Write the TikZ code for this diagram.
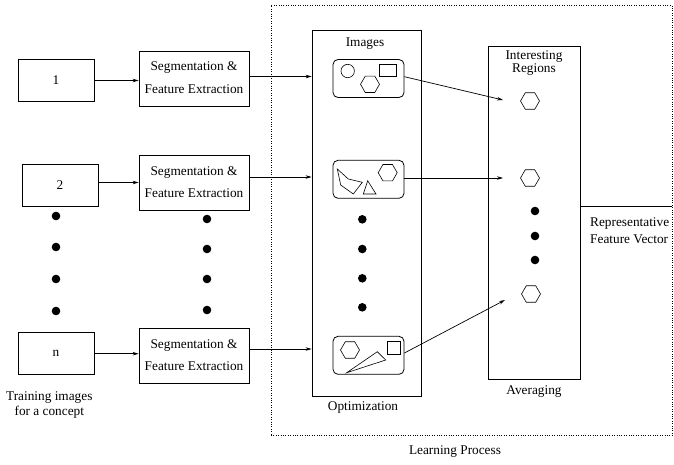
\documentclass[tikz,border=0pt]{standalone}
\usepackage{fontspec}
\setmainfont{Liberation Serif}
\usetikzlibrary{arrows.meta}
\begin{document}
\begin{tikzpicture}[x=1pt,y=-1pt,
  every node/.style={font=\fontsize{13.3}{15.5}\selectfont, inner sep=0pt},
  box/.style={draw, line width=0.8pt},
  smallbox/.style={box, minimum width=76pt, minimum height=42pt},
  segbox/.style={box, minimum width=110pt, minimum height=55pt},
  imgbox/.style={box, rounded corners=5pt, minimum width=71pt, minimum height=38pt},
  arr/.style={-{Stealth[length=6pt,width=3.5pt]}, line width=0.7pt},
  blob/.style={fill, circle, minimum size=8.6pt},
  shp/.style={line width=0.6pt},
  hexa/.pic={\draw[shp] (0:9.5) -- (60:9.5) -- (120:9.5) -- (180:9.5) -- (240:9.5) -- (300:9.5) -- cycle;}]
\useasboundingbox (0,0) rectangle (674,464);

% learning process frame
\node[draw, line width=0.7pt, dash pattern=on 0.8pt off 1.6pt, minimum width=401pt, minimum height=430.4pt] (lp) at (471.5,220.5) {};
\node (lpt) at (455,451.7) {Learning Process};

% training images
\node[smallbox] (b1) at (56,80.5) {1};
\node[smallbox] (b2) at (60,185.5) {2};
\node[smallbox] (bn) at (56,353.7) {n};
\node (tr1) at (49.3,397.3) {Training images};
\node (tr2) at (49.3,412.3) {for a concept};
\foreach \y [count=\i] in {216,247,279,311} \node[blob] (ld\i) at (56,\y) {};

% segmentation boxes
\node[segbox] (s1) at (194,78.5) {};
\node (s1a) at (194,68) {Segmentation \&};
\node (s1b) at (194,89) {Feature Extraction};
\node[segbox] (s2) at (194,183) {};
\node (s2a) at (194,172.5) {Segmentation \&};
\node (s2b) at (194,193.5) {Feature Extraction};
\node[segbox] (sn) at (194,356) {};
\node (sna) at (194,345.5) {Segmentation \&};
\node (snb) at (194,366.5) {Feature Extraction};
\foreach \y [count=\i] in {219,249,279,310} \node[blob] (sd\i) at (207,\y) {};

% optimization box
\node[box, minimum width=109pt, minimum height=366pt] (opt) at (366.5,213) {};
\node (optt) at (365,44) {Images};
\node (optb) at (363,408) {Optimization};
\node[imgbox] (i1) at (368.5,78.5) {};
\node[imgbox] (i2) at (368.5,179.3) {};
\node[imgbox] (i3) at (368.5,355.3) {};
\foreach \y [count=\i] in {219.3,249,278.3,307.3} \node[blob] (md\i) at (362.3,\y) {};

% shapes in image 1
\draw[shp] (347.7,71) circle (6.7);
\draw[shp] (379,64) rectangle (396.7,76);
\pic at (370,84.3) {hexa};
% shapes in image 2
\draw[shp] (337.3,169) -- (348.3,179) -- (362.3,182.3) -- (353.3,194) -- (340.7,185) -- cycle;
\draw[shp] (367.7,180.7) -- (376,194) -- (363.3,194) -- cycle;
\pic at (387.7,172.7) {hexa};
% shapes in image 3
\pic at (350,350) {hexa};
\draw[shp] (387.3,341.7) rectangle (400.7,354);
\draw[shp] (346.7,372.7) -- (377.3,351.7) -- (385.7,360) -- cycle;

% interesting regions box
\node[box, minimum width=92.7pt, minimum height=332.3pt] (rb) at (534.3,212.8) {};
\node (rbt1) at (534,56.7) {Interesting};
\node (rbt2) at (534,70) {Regions};
\node (rbb) at (534,391.7) {Averaging};
\pic at (530,101) {hexa};
\pic at (530,178) {hexa};
\pic at (531,294) {hexa};
\foreach \y [count=\i] in {211,236,260} \node[blob] (rd\i) at (535,\y) {};
\coordinate (r1) at (503,100);
\coordinate (r2) at (503,178);
\coordinate (r3) at (505,300);

% output
\draw[line width=0.8pt] ([yshift=6.1pt]rb.east) -- ([yshift=6.1pt]rb.east -| lp.east);
\node[anchor=west] (fv1) at (590,224) {Representative};
\node[anchor=west] (fv2) at (590,239.3) {Feature Vector};

% arrows
\draw[arr] (b1.east) -- (b1.east -| s1.west);
\draw[arr] ([yshift=3pt]b2.east) -- ([yshift=3pt]b2.east -| s2.west);
\draw[arr] (bn.east) -- (bn.east -| sn.west);
\draw[arr] ([yshift=2pt]s1.east) -- ([yshift=2pt]s1.east -| opt.west);
\draw[arr] ([yshift=6pt]s2.east) -- ([yshift=6pt]s2.east -| opt.west);
\draw[arr] ([yshift=7pt]sn.east) -- ([yshift=7pt]sn.east -| opt.west);
\draw[arr] ([yshift=1.8pt]i1.east) -- (r1);
\draw[arr] ([yshift=1.3pt]i2.east) -- (r2);
\draw[arr] ([yshift=2.3pt]i3.east) -- (r3);
\end{tikzpicture}
\end{document}
